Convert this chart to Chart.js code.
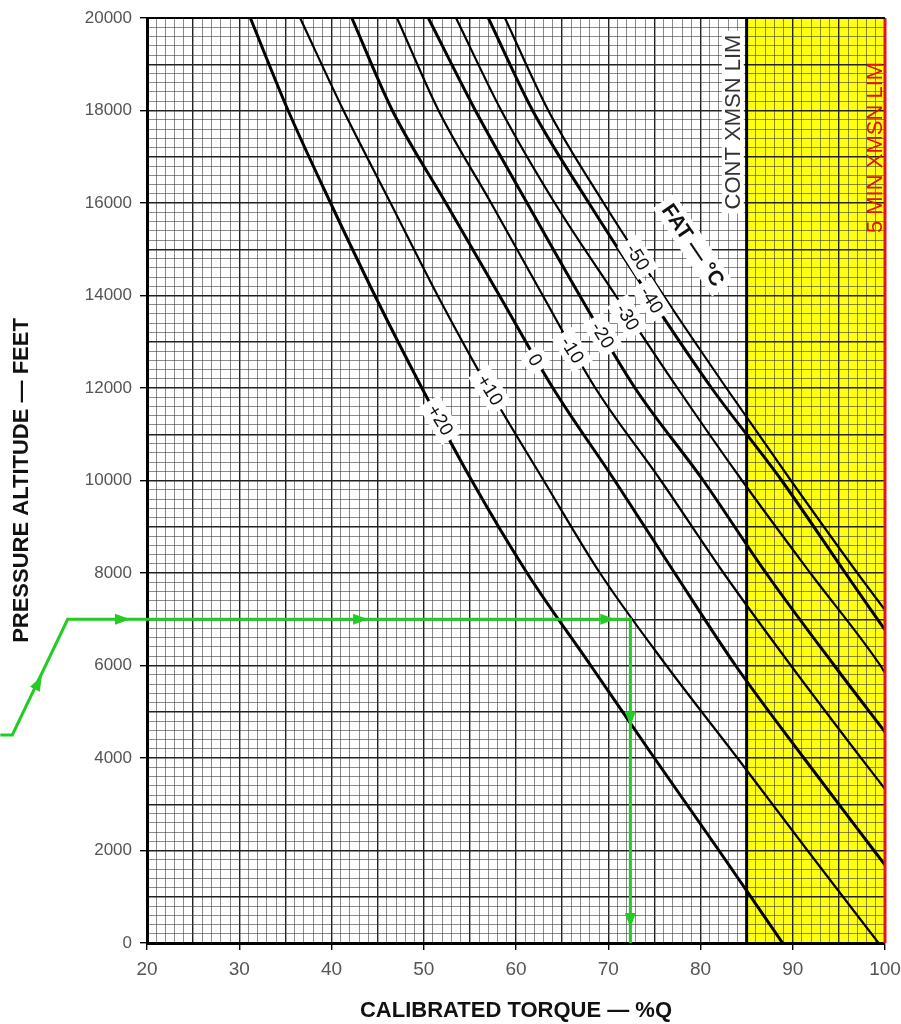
<!DOCTYPE html>
<html>
<head>
<meta charset="utf-8">
<title>Calibrated torque available</title>
<script src="https://cdn.jsdelivr.net/npm/chart.js@4.4.1/dist/chart.umd.min.js"></script>
<style>
  html, body { margin: 0; padding: 0; background: #fff; }
  #wrap { width: 901px; height: 1024px; }
</style>
</head>
<body>
<div id="wrap"><canvas id="torqueChart" width="901" height="1024"></canvas></div>
<script>
// pressure altitude rows (ft) the curves were read at
const altitudes = [20000, 18000, 16000, 14000, 12000, 10000, 8000, 6000, 4000, 2000, 0];

// calibrated torque (%Q) on each FAT curve, one value per altitude row
const torqueP20 = [31.2, 35.3, 39.9, 44.7, 49.8, 55.2, 61.2, 68.1, 75.0, 82.0, 88.9];
const torqueP10 = [36.6, 41.3, 46.4, 51.5, 57.0, 63.0, 69.1, 76.3, 84.0, 91.6, 99.3];
const torque0   = [42.2, 46.6, 52.4, 58.2, 64.0, 70.7, 77.2, 83.8, 91.2, 98.8];
const torqueM10 = [47.1, 51.6, 57.3, 62.9, 68.6, 75.7, 82.5, 89.8, 97.4];
const torqueM20 = [50.5, 55.6, 61.2, 66.9, 72.9, 80.3, 87.1, 94.5];
const torqueM30 = [53.5, 58.4, 64.2, 70.8, 77.5, 84.5, 91.9, 99.5];
const torqueM40 = [57.0, 61.8, 67.9, 74.4, 81.2, 88.8, 95.7];
const torqueM50 = [58.8, 63.5, 69.5, 76.0, 82.8, 89.8, 97.0];

// altitude where a curve runs into the 100 %Q edge (null = reaches sea level first)
const edgeAlt = [null, null, 1686, 3330, 4562, 5838, 6768, 7200];

const fatLabels = ['+20', '+10', '0', '-10', '-20', '-30', '-40', '-50'];
const labelTorque = [51.8, 57.2, 62.1, 66.1, 69.4, 72.1, 74.7, 73.2];
const labelAlt = [11308, 11957, 12605, 12822, 13146, 13535, 13903, 14832];

// limits
const contLimit = 85;

// example path (green)
const pathTorque = [72.4, 72.4, 11.4, 5.4, 4.1];
const pathAlt = [0, 7000, 7000, 4500, 4500];
const arrowTorque = [8.2, 17.3, 43.1, 69.9, 72.4, 72.4];
const arrowAlt = [5620, 7000, 7000, 7000, 4860, 500];
const arrowDir = [-63, 0, 0, 0, 90, 90];

const tickFont = '"Liberation Sans", Arial, sans-serif';

const curveSets = [torqueP20, torqueP10, torque0, torqueM10, torqueM20, torqueM30, torqueM40, torqueM50];

const curveDatasets = curveSets.map(function (arr, i) {
    const pts = arr.map(function (t, k) { return { x: t, y: altitudes[k] }; });
    if (edgeAlt[i] !== null) {
        pts.push({ x: 100, y: edgeAlt[i] });
    }
    return {
        label: 'FAT ' + fatLabels[i],
        data: pts,
        showLine: true,
        borderColor: '#000',
        borderWidth: i % 2 === 0 ? 3 : 2.2,
        pointRadius: 0,
        cubicInterpolationMode: 'monotone',
        fill: false
    };
});

const greenDataset = {
    label: 'example',
    data: pathTorque.map(function (t, k) { return { x: t, y: pathAlt[k] }; }),
    showLine: true,
    borderColor: '#22cc22',
    borderWidth: 3,
    pointRadius: 0,
    tension: 0,
    clip: false
};

function drawRotatedLabel(ctx, text, x, y, angle, font, color, padX, boxH) {
    ctx.save();
    ctx.translate(x, y);
    ctx.rotate(angle);
    ctx.font = font;
    const w = ctx.measureText(text).width;
    ctx.fillStyle = '#fff';
    ctx.fillRect(-w / 2 - padX, -boxH / 2, w + 2 * padX, boxH);
    ctx.fillStyle = color;
    ctx.textAlign = 'center';
    ctx.textBaseline = 'middle';
    ctx.fillText(text, 0, 1);
    ctx.restore();
}

const overlayPlugin = {
    id: 'overlay',
    beforeDraw: function (chart) {
        const ctx = chart.ctx;
        const a = chart.chartArea;
        const x = chart.scales.x;
        ctx.save();
        ctx.fillStyle = '#fff';
        ctx.fillRect(0, 0, chart.width, chart.height);
        const x85 = x.getPixelForValue(contLimit);
        ctx.fillStyle = '#ffff10';
        ctx.fillRect(x85, a.top, x.getPixelForValue(100) - x85, a.bottom - a.top);
        ctx.restore();
    },
    afterDatasetsDraw: function (chart) {
        const ctx = chart.ctx;
        const a = chart.chartArea;
        const x = chart.scales.x;
        const y = chart.scales.y;
        const lineAngle = 58 * Math.PI / 180;

        // curve labels in the white band
        fatLabels.forEach(function (lbl, i) {
            drawRotatedLabel(ctx, lbl, x.getPixelForValue(labelTorque[i]), y.getPixelForValue(labelAlt[i]),
                lineAngle, '19px ' + tickFont, '#111', 6, 24);
        });
        drawRotatedLabel(ctx, 'FAT — °C', x.getPixelForValue(79.2), y.getPixelForValue(15090),
            56 * Math.PI / 180, 'bold 21px ' + tickFont, '#111', 6, 26);

        // continuous transmission limit
        const x85 = x.getPixelForValue(contLimit);
        ctx.save();
        ctx.strokeStyle = '#000';
        ctx.lineWidth = 3;
        ctx.beginPath();
        ctx.moveTo(x85, a.top);
        ctx.lineTo(x85, a.bottom);
        ctx.stroke();
        ctx.restore();
        drawRotatedLabel(ctx, 'CONT XMSN LIM', x.getPixelForValue(83.5), y.getPixelForValue(17750),
            -Math.PI / 2, '22px ' + tickFont, '#333', 4, 22);

        // 5 minute limit
        const x100 = x.getPixelForValue(100);
        ctx.save();
        ctx.strokeStyle = '#e8141c';
        ctx.lineWidth = 3;
        ctx.beginPath();
        ctx.moveTo(x100, a.top);
        ctx.lineTo(x100, a.bottom);
        ctx.stroke();
        ctx.strokeStyle = '#000';
        ctx.lineWidth = 2;
        ctx.beginPath();
        ctx.moveTo(a.left, a.top);
        ctx.lineTo(x100, a.top);
        ctx.stroke();
        ctx.translate(x.getPixelForValue(99.0), y.getPixelForValue(17200));
        ctx.rotate(-Math.PI / 2);
        ctx.font = '22px ' + tickFont;
        ctx.fillStyle = '#e01010';
        ctx.textAlign = 'center';
        ctx.textBaseline = 'middle';
        ctx.fillText('5 MIN XMSN LIM', 0, 0);
        ctx.restore();

        // arrow heads on the example path
        ctx.save();
        ctx.fillStyle = '#22cc22';
        arrowTorque.forEach(function (t, i) {
            const px = x.getPixelForValue(t);
            const py = y.getPixelForValue(arrowAlt[i]);
            ctx.save();
            ctx.translate(px, py);
            ctx.rotate(arrowDir[i] * Math.PI / 180);
            ctx.beginPath();
            ctx.moveTo(8, 0);
            ctx.lineTo(-7, -5.5);
            ctx.lineTo(-7, 5.5);
            ctx.closePath();
            ctx.fill();
            ctx.restore();
        });
        ctx.restore();
    }
};

new Chart(document.getElementById('torqueChart').getContext('2d'), {
    type: 'scatter',
    data: { datasets: [greenDataset].concat(curveDatasets) },
    options: {
        responsive: false,
        animation: false,
        devicePixelRatio: 1,
        layout: { padding: { left: 0, top: 18, right: 16, bottom: 0 } },
        plugins: {
            legend: { display: false },
            tooltip: { enabled: false }
        },
        scales: {
            x: {
                type: 'linear',
                min: 20,
                max: 100,
                afterFit: function (scale) {
                    scale.height = 81;
                    scale.paddingLeft = 0;
                    scale.paddingRight = 0;
                },
                ticks: {
                    stepSize: 1,
                    autoSkip: false,
                    maxRotation: 0,
                    maxTicksLimit: 200,
                    padding: 8,
                    color: '#555',
                    font: { family: tickFont, size: 19 },
                    callback: function (v) { return v % 10 === 0 ? String(v) : ''; }
                },
                grid: {
                    color: function (c) { return c.tick && c.tick.value % 5 === 0 ? '#222' : 'rgba(60,60,60,0.6)'; },
                    lineWidth: function (c) { return c.tick && c.tick.value % 5 === 0 ? 1.4 : 1; },
                    tickLength: 7,
                    tickColor: function (c) { return c.tick && c.tick.value % 10 === 0 ? '#000' : 'rgba(0,0,0,0)'; }
                },
                border: { color: '#000', width: 3 },
                title: {
                    display: true,
                    text: 'CALIBRATED TORQUE — %Q',
                    color: '#111',
                    font: { family: tickFont, size: 22, weight: 'bold' },
                    padding: { top: 0, bottom: 0 }
                }
            },
            y: {
                type: 'linear',
                min: 0,
                max: 20000,
                afterFit: function (scale) {
                    scale.width = 147;
                    scale.paddingTop = 0;
                    scale.paddingBottom = 0;
                },
                ticks: {
                    stepSize: 200,
                    autoSkip: false,
                    maxTicksLimit: 200,
                    padding: 8,
                    color: '#555',
                    font: { family: tickFont, size: 17 },
                    callback: function (v) { return v % 2000 === 0 ? String(v) : ''; }
                },
                grid: {
                    color: function (c) { return c.tick && c.tick.value % 1000 === 0 ? '#222' : 'rgba(60,60,60,0.6)'; },
                    lineWidth: function (c) { return c.tick && c.tick.value % 1000 === 0 ? 1.4 : 1; },
                    tickLength: 7,
                    tickColor: function (c) { return c.tick && c.tick.value % 2000 === 0 ? '#000' : 'rgba(0,0,0,0)'; }
                },
                border: { color: '#000', width: 3 },
                title: {
                    display: true,
                    text: 'PRESSURE ALTITUDE — FEET',
                    color: '#111',
                    font: { family: tickFont, size: 22, weight: 'bold' },
                    padding: { top: 9, bottom: 0 }
                }
            }
        }
    },
    plugins: [overlayPlugin]
});
</script>
</body>
</html>
